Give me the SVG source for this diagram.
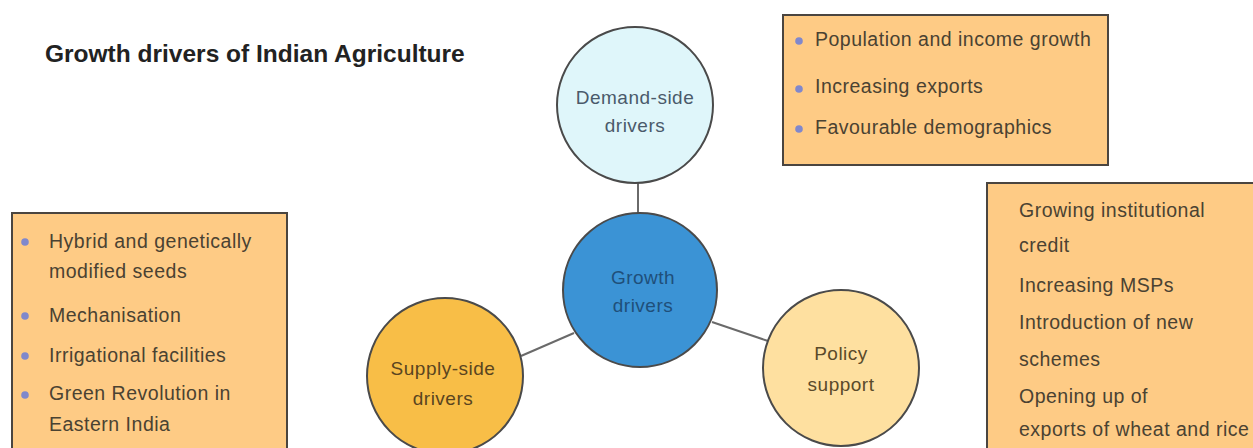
<svg xmlns="http://www.w3.org/2000/svg" width="1253" height="448" viewBox="0 0 1253 448">
<style>
.box{fill:#FECB85;stroke:#4a4540;stroke-width:2}
.bt{font-family:"Liberation Sans",Arial,sans-serif;font-size:19.5px;letter-spacing:0.5px;fill:#4a4232}
.ct{font-family:"Liberation Sans",Arial,sans-serif;font-size:19px;letter-spacing:0.5px;text-anchor:middle}
.bul{fill:#8088cc}
.conn{stroke:#6a6a6a;stroke-width:2;fill:none}
.circ{stroke:#4a4a4a;stroke-width:2}
</style>
<rect width="1253" height="448" fill="#ffffff"/>
<text id="title" x="45" y="62" font-family="'Liberation Sans',Arial,sans-serif" font-size="24.5" font-weight="bold" fill="#222222">Growth drivers of Indian Agriculture</text>
<g id="connectors">
<line class="conn" x1="638" y1="182" x2="638" y2="213"/>
<line class="conn" x1="574" y1="333" x2="521" y2="356"/>
<line class="conn" x1="712" y1="322" x2="768" y2="341"/>
</g>
<g id="demand-box">
<rect class="box" x="783" y="15" width="325" height="150"/>
<circle class="bul" cx="799" cy="41" r="3.8"/>
<text class="bt" x="815" y="46">Population and income growth</text>
<circle class="bul" cx="799" cy="89" r="3.8"/>
<text class="bt" x="815" y="93">Increasing exports</text>
<circle class="bul" cx="799" cy="129" r="3.8"/>
<text class="bt" x="815" y="134">Favourable demographics</text>
</g>
<g id="supply-box">
<rect class="box" x="12" y="213" width="275" height="250"/>
<circle class="bul" cx="25" cy="242" r="3.8"/>
<text class="bt" x="49" y="248">Hybrid and genetically</text>
<text class="bt" x="49" y="278">modified seeds</text>
<circle class="bul" cx="25" cy="316" r="3.8"/>
<text class="bt" x="49" y="322">Mechanisation</text>
<circle class="bul" cx="25" cy="356" r="3.8"/>
<text class="bt" x="49" y="362">Irrigational facilities</text>
<circle class="bul" cx="25" cy="395" r="3.8"/>
<text class="bt" x="49" y="400">Green Revolution in</text>
<text class="bt" x="49" y="431">Eastern India</text>
</g>
<g id="policy-box">
<rect class="box" x="987" y="183" width="300" height="300"/>
<text class="bt" x="1019" y="217">Growing institutional</text>
<text class="bt" x="1019" y="252">credit</text>
<text class="bt" x="1019" y="292">Increasing MSPs</text>
<text class="bt" x="1019" y="329">Introduction of new</text>
<text class="bt" x="1019" y="366">schemes</text>
<text class="bt" x="1019" y="403">Opening up of</text>
<text class="bt" x="1019" y="436">exports of wheat and rice</text>
</g>
<g id="demand-side">
<circle class="circ" cx="635" cy="105" r="78" fill="#DFF6FA"/>
<text class="ct" x="635" y="104" fill="#4a5a6a">Demand-side</text>
<text class="ct" x="635" y="132" fill="#4a5a6a">drivers</text>
</g>
<g id="growth">
<circle class="circ" cx="640" cy="290" r="77" fill="#3B93D5"/>
<text class="ct" x="643" y="284" fill="#1f4f7a">Growth</text>
<text class="ct" x="643" y="312" fill="#1f4f7a">drivers</text>
</g>
<g id="supply-side">
<circle class="circ" cx="445" cy="376" r="78" fill="#F8BE47"/>
<text class="ct" x="443" y="375" fill="#5a4520">Supply-side</text>
<text class="ct" x="443" y="405" fill="#5a4520">drivers</text>
</g>
<g id="policy">
<circle class="circ" cx="841" cy="368" r="78" fill="#FEE0A0"/>
<text class="ct" x="841" y="360" fill="#5a4a2a">Policy</text>
<text class="ct" x="841" y="391" fill="#5a4a2a">support</text>
</g>
</svg>
